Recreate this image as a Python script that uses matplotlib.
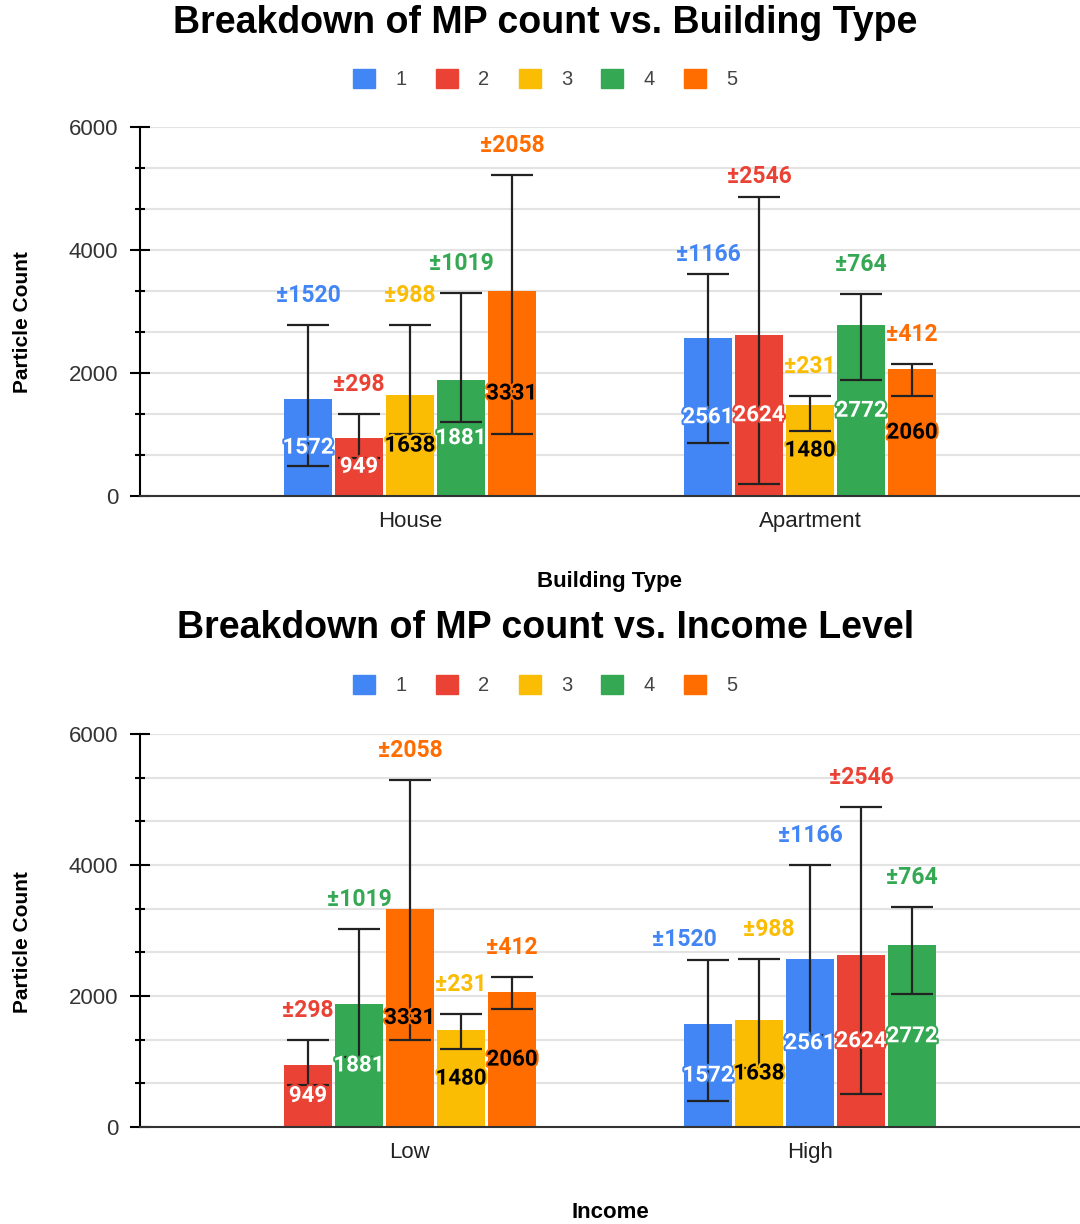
import matplotlib
matplotlib.use('Agg')
import matplotlib.pyplot as plt
import matplotlib.patheffects as pe
from matplotlib.patches import Patch
import numpy as np

# google sheets palette, series 1..5
COLORS = {1: '#4285F4', 2: '#EA4335', 3: '#FBBC04', 4: '#34A853', 5: '#FF6D01'}
TEXT_ON = {1: 'white', 2: 'white', 3: 'black', 4: 'white', 5: 'black'}

# --- Building type chart ---
bt_groups = ['House', 'Apartment']
bt_series = [[1, 2, 3, 4, 5], [1, 2, 3, 4, 5]]
bt_values = [[1572, 949, 1638, 1881, 3331], [2561, 2624, 1480, 2772, 2060]]
bt_sd = [[1520, 298, 988, 1019, 2058], [1166, 2546, 231, 764, 412]]
bt_err_lo = [[487, 612, 1012, 1207, 1012], [866, 190, 1056, 1879, 1624]]
bt_err_hi = [[2772, 1337, 2772, 3292, 5214], [3611, 4857, 1624, 3286, 2149]]

# --- Income chart ---
inc_groups = ['Low', 'High']
inc_series = [[2, 4, 5, 3, 5], [1, 3, 1, 2, 4]]
inc_values = [[949, 1881, 3331, 1480, 2060], [1572, 1638, 2561, 2624, 2772]]
inc_sd = [[298, 1019, 2058, 231, 412], [1520, 988, 1166, 2546, 764]]
inc_err_lo = [[636, 1064, 1333, 1196, 1802], [392, 900, 1410, 509, 2036]]
inc_err_hi = [[1323, 3023, 5298, 1730, 2290], [2545, 2565, 3995, 4891, 3364]]

# small label nudges (points) so the ± labels sit like in the original
BT_NUDGE = {(1, 0): (0, -7), (1, 1): (0, -6)}
INC_NUDGE = {(1, 0): (-17, -6), (1, 1): (7, 0)}

plt.rcParams['font.family'] = ['Liberation Sans', 'DejaVu Sans']

fig = plt.figure(figsize=(10.8, 12.24), dpi=100)

BAR_W = 0.12
STEP = 0.1275


def draw(ax, groups, series, values, sd, lo, hi, xlabel, nudge):
    for g in range(len(groups)):
        for i in range(len(values[g])):
            s = series[g][i]
            x = g + (i - 2) * STEP
            v = values[g][i]
            ax.bar(x, v, width=BAR_W, color=COLORS[s], zorder=2)
            ax.errorbar(x, v, yerr=[[v - lo[g][i]], [hi[g][i] - v]], fmt='none',
                        ecolor='#222222', elinewidth=1.6, capsize=15, capthick=1.6, zorder=3)
            ax.text(x, v / 2, str(v), ha='center', va='center', fontsize=16,
                    fontweight='bold', family='Roboto', color=TEXT_ON[s], zorder=4,
                    path_effects=[pe.withStroke(linewidth=3, foreground=COLORS[s])])
            dx, dy = nudge.get((g, i), (0, 0))
            ax.annotate('±' + str(sd[g][i]), (x, hi[g][i]), xytext=(dx, 13 + dy),
                        textcoords='offset points', ha='center', va='bottom',
                        fontsize=16.5, fontweight='bold', family='Roboto',
                        color=COLORS[s], zorder=4)
    ax.set_xlim(-0.675, 1.675)
    ax.set_ylim(0, 6000)
    ax.set_xticks(range(len(groups)))
    ax.set_xticklabels(groups, fontsize=16, color='#222222')
    ax.tick_params(axis='x', length=0, pad=11)
    ax.set_yticks([0, 2000, 4000, 6000])
    ax.set_yticks(np.arange(0, 6001, 2000 / 3), minor=True)
    ax.tick_params(axis='y', which='major', direction='inout', length=15, width=1.5,
                   labelsize=16, labelcolor='#333333', pad=8)
    ax.tick_params(axis='y', which='minor', direction='inout', length=7, width=1.5)
    ax.grid(axis='y', which='both', color='#e3e3e3', linewidth=1.5, zorder=0)
    ax.set_axisbelow(True)
    for sp in ['top', 'right']:
        ax.spines[sp].set_visible(False)
    ax.spines['left'].set_linewidth(1.5)
    ax.spines['bottom'].set_linewidth(1.5)
    ax.spines['bottom'].set_color('#333333')
    ax.set_ylabel('Particle Count', fontsize=15, fontweight='bold')
    ax.yaxis.set_label_coords(-0.115, 0.47)
    ax.set_xlabel(xlabel, fontsize=16, fontweight='bold', labelpad=28)


ax1 = fig.add_axes([0.1296, 0.5948, 0.8704, 0.3015])
draw(ax1, bt_groups, bt_series, bt_values, bt_sd, bt_err_lo, bt_err_hi, 'Building Type', BT_NUDGE)
ax2 = fig.add_axes([0.1296, 0.0792, 0.8704, 0.3211])
draw(ax2, inc_groups, inc_series, inc_values, inc_sd, inc_err_lo, inc_err_hi, 'Income', INC_NUDGE)

handles = [Patch(color=COLORS[k]) for k in range(1, 6)]
for ty, ly, title in [(0.981, 0.9355, 'Breakdown of MP count vs. Building Type'),
                      (0.487, 0.4403, 'Breakdown of MP count vs. Income Level')]:
    fig.text(0.505, ty, title, ha='center', va='center', fontsize=27, fontweight='bold')
    fig.legend(handles, ['1', '2', '3', '4', '5'], loc='center', bbox_to_anchor=(0.505, ly),
               ncol=5, frameon=False, fontsize=14.5, handlelength=1.1, handleheight=1.1,
               handletextpad=1.0, columnspacing=1.45, labelcolor='#444444')

fig.savefig('out.png', dpi=100)
